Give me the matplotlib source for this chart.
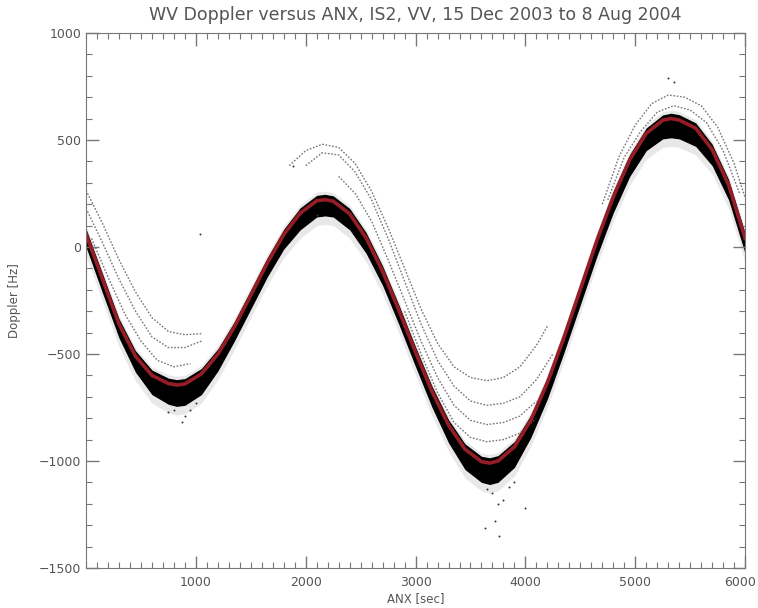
import matplotlib
matplotlib.use("Agg")
import matplotlib.pyplot as plt
import matplotlib.transforms as mtrans
from matplotlib.ticker import MultipleLocator

# ANX sampling of the fitted curve and the dense data band
anx = [0, 150, 300, 450, 600, 750, 825, 900, 1050, 1200, 1350, 1500, 1650, 1800, 1950,
       2100, 2175, 2250, 2400, 2550, 2700, 2850, 3000, 3150, 3300, 3450, 3600, 3675, 3750, 3900,
       4050, 4200, 4350, 4500, 4650, 4800, 4950, 5100, 5250, 5325, 5400, 5550, 5700, 5850, 6000]
model = [60, -150, -360, -510, -600, -638, -645, -640, -593, -501, -374, -225, -75, 58, 158,
         216, 221, 214, 155, 42, -114, -298, -492, -676, -832, -945, -1003, -1010, -1000, -934,
         -809, -634, -424, -198, 29, 235, 408, 531, 592, 600, 593, 555, 455, 290, 40]
band_top = [85, -125, -335, -485, -575, -613, -620, -615, -568, -476, -349, -200, -50, 83, 183,
            241, 246, 239, 180, 67, -89, -273, -467, -651, -807, -920, -978, -985, -975, -909,
            -784, -609, -399, -173, 54, 260, 433, 556, 617, 625, 618, 580, 480, 315, 65]
band_bottom = [0, -215, -425, -585, -690, -735, -745, -740, -690, -580, -440, -290, -140, -10, 80,
               140, 145, 140, 80, -30, -180, -365, -560, -750, -915, -1040, -1100, -1110, -1100, -1030,
               -890, -710, -495, -270, -45, 160, 330, 450, 505, 510, 505, 470, 380, 220, -30]

# secondary (ghost) tracks above the main band
ghost_x = [
    [0, 150, 300, 450, 600, 750, 900, 1050],
    [0, 150, 300, 450, 600, 750, 900, 1050],
    [50, 200, 350, 500, 650, 800, 950],
    [1850, 2000, 2150, 2300, 2450, 2600, 2750, 2900, 3050, 3200, 3350, 3500, 3650, 3800, 3950, 4100, 4200],
    [2000, 2150, 2300, 2450, 2600, 2750, 2900, 3050, 3200, 3350, 3500, 3650, 3800, 3950, 4100, 4250],
    [2300, 2450, 2600, 2750, 2900, 3050, 3200, 3350, 3500, 3650, 3800, 3950, 4100],
    [2900, 3050, 3200, 3350, 3500, 3650, 3800, 3950, 4100],
    [4700, 4850, 5000, 5150, 5300, 5450, 5600, 5750, 5900, 6000],
    [4750, 4900, 5050, 5200, 5350, 5500, 5650, 5800, 5950],
]
ghost_y = [
    [265, 110, -60, -210, -330, -395, -410, -405],
    [180, 20, -150, -300, -420, -470, -470, -440],
    [40, -140, -310, -440, -530, -560, -545],
    [380, 450, 480, 465, 390, 260, 90, -100, -290, -450, -560, -610, -625, -610, -560, -460, -370],
    [380, 440, 430, 350, 220, 40, -160, -360, -530, -650, -720, -740, -730, -700, -620, -500],
    [330, 250, 120, -60, -250, -440, -610, -740, -810, -830, -820, -790, -720],
    [-300, -500, -680, -820, -890, -910, -900, -870, -800],
    [200, 420, 570, 670, 710, 700, 660, 560, 390, 230],
    [220, 420, 540, 630, 660, 640, 580, 450, 250],
]

# isolated outliers
out_x = [750, 800, 870, 900, 950, 1000, 1040, 3650, 3700, 3720, 3750, 3760, 3800,
         3850, 3900, 3633, 3997, 5300, 5350, 2100, 1880]
out_y = [-770, -760, -820, -790, -760, -730, 60, -1130, -1150, -1280, -1200, -1350,
         -1180, -1120, -1100, -1311, -1218, 790, 770, 150, 380]

title = "WV Doppler versus ANX, IS2, VV, 15 Dec 2003 to 8 Aug 2004"
grey = "#555555"

fig = plt.figure(figsize=(7.58, 6.08), dpi=100)
ax = fig.add_axes([0.1135, 0.0658, 0.8695, 0.88])

# fuzzy halo and dense band
ax.fill_between(anx, [t + 15 for t in band_top], [b - 40 for b in band_bottom],
                color="black", alpha=0.09, lw=0)
ax.fill_between(anx, band_top, band_bottom, color="black", lw=0)

for gx, gy in zip(ghost_x, ghost_y):
    ax.plot(gx, gy, color="#555555", lw=1.0, ls=(0, (1.2, 1.2)), alpha=0.8)

ax.scatter(out_x, out_y, s=2, color="#333333", lw=0)

ax.plot(anx, model, color="#961c25", lw=2.6, solid_joinstyle="round")

ax.set_xlim(0, 6000)
ax.set_ylim(-1500, 1000)
ax.xaxis.set_minor_locator(MultipleLocator(100))
ax.yaxis.set_major_locator(MultipleLocator(500))
ax.yaxis.set_minor_locator(MultipleLocator(100))
ax.set_xticks([1000, 2000, 3000, 4000, 5000, 6000])
ax.tick_params(which="both", direction="in", top=True, right=True,
               colors="#777777", labelcolor=grey, labelsize=9)
ax.tick_params(axis="x", which="major", pad=6)
ax.tick_params(which="major", length=9, width=1)
ax.tick_params(which="minor", length=4.5, width=0.8)
for s in ax.spines.values():
    s.set_color("#777777")

# keep the last x label inside the canvas
last = ax.get_xticklabels()[-1]
last.set_horizontalalignment("right")
last.set_transform(last.get_transform() + mtrans.ScaledTranslation(11 / 100, 0, fig.dpi_scale_trans))

ax.set_title(title, fontsize=12.5, color=grey, pad=9)
ax.set_xlabel("ANX [sec]", fontsize=8.5, color=grey, labelpad=2)
ax.set_ylabel("Doppler [Hz]", fontsize=8.5, color=grey, labelpad=13)

fig.savefig("out.png", dpi=100)
